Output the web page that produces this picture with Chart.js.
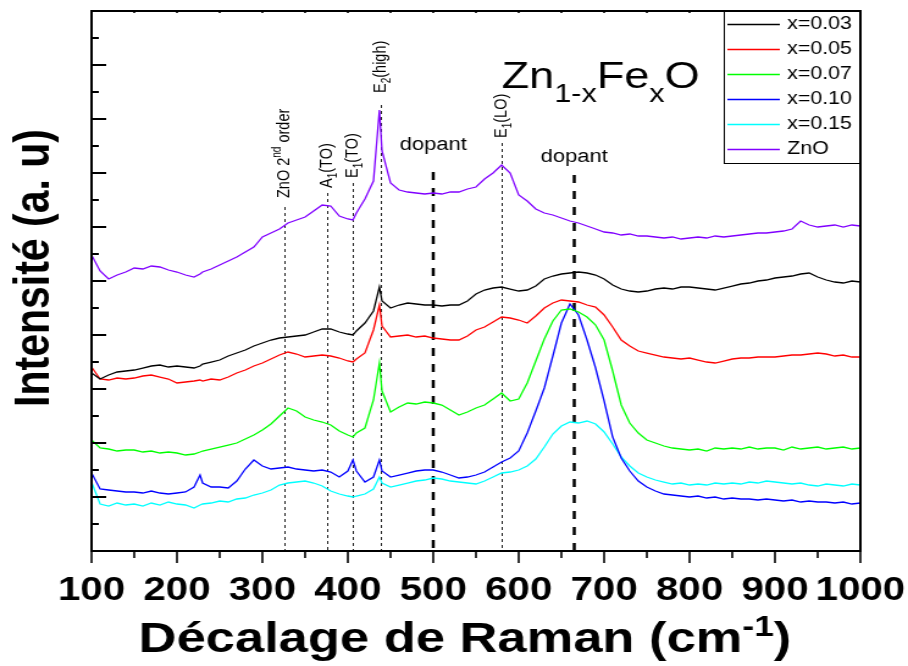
<!DOCTYPE html>
<html>
<head>
<meta charset="utf-8">
<script src="https://cdn.jsdelivr.net/npm/chart.js@4.4.1/dist/chart.umd.min.js"></script>
<style>
  html, body { margin: 0; padding: 0; background: #fff; }
  #raman { display: block; }
</style>
</head>
<body>
<!-- drawn at 744px wide and shown stretched to 908px, like the original figure -->
<canvas id="raman" width="744" height="666" style="width:908px;height:666px"></canvas>
<script>
const FONT = "'Liberation Sans', Arial, sans-serif";

// --- DATA: Raman shift (cm-1) and intensities (a.u., 27 per tick) ---
const ramanShift = [
  100, 110, 120, 130, 140, 150, 160, 170, 180, 190,
  200, 210, 220, 227, 230, 240, 250, 260, 270, 280,
  290, 300, 310, 320, 330, 340, 350, 360, 370, 380,
  390, 400, 406, 410, 420, 430, 437, 440, 450, 460,
  470, 480, 490, 500, 510, 520, 530, 540, 550, 560,
  570, 580, 590, 600, 610, 620, 630, 640, 650, 660,
  670, 680, 690, 700, 710, 720, 730, 740, 750, 760,
  770, 780, 790, 800, 810, 820, 830, 840, 850, 860,
  870, 880, 890, 900, 910, 920, 930, 940, 950, 960,
  970, 980, 990, 1000
];

const x003 = [
  178, 172, 176, 179, 180, 181, 183, 185, 186, 184,
  185, 184, 183, 185, 187, 189, 191, 195, 198, 201,
  205, 208, 211, 213, 214, 215, 216, 219, 222, 222,
  219, 217, 216, 220, 228, 240, 264, 250, 243, 246,
  248, 247, 246, 246, 245, 246, 246, 250, 257, 261,
  263, 264, 262, 260, 261, 265, 272, 275, 277, 278,
  279, 278, 276, 272, 266, 262, 260, 259, 260, 262,
  263, 262, 264, 264, 263, 262, 261, 263, 265, 267,
  268, 270, 271, 273, 274, 275, 277, 278, 274, 271,
  269, 268, 270, 269
];

const x005 = [
  184, 172, 171, 173, 172, 173, 175, 176, 174, 172,
  168, 169, 170, 171, 170, 172, 171, 174, 178, 181,
  185, 188, 192, 196, 199, 197, 194, 195, 196, 195,
  193, 190, 189, 192, 198, 221, 246, 225, 214, 215,
  216, 214, 215, 213, 212, 211, 211, 215, 221, 224,
  229, 234, 233, 231, 228, 235, 243, 248, 251, 250,
  249, 246, 244, 236, 224, 211, 205, 200, 198, 196,
  194, 193, 192, 193, 191, 189, 188, 190, 192, 193,
  193, 194, 194, 194, 195, 196, 196, 197, 198, 197,
  195, 196, 194, 194
];

const x007 = [
  111, 103, 102, 100, 101, 101, 99, 100, 98, 99,
  98, 96, 97, 99, 100, 102, 104, 106, 108, 112,
  116, 121, 127, 135, 143, 140, 134, 131, 129, 126,
  120, 116, 114, 118, 123, 151, 188, 160, 139, 144,
  148, 147, 149, 148, 146, 141, 136, 139, 143, 146,
  152, 158, 150, 152, 168, 190, 212, 230, 241, 242,
  239, 234, 226, 211, 180, 146, 128, 118, 111, 108,
  105, 103, 102, 101, 102, 100, 103, 102, 103, 102,
  104, 102, 103, 103, 101, 104, 102, 103, 104, 102,
  103, 104, 102, 103
];

const x010 = [
  78, 62, 61, 60, 59, 59, 58, 60, 58, 57,
  58, 59, 64, 76, 68, 64, 64, 63, 70, 82,
  91, 85, 82, 83, 84, 82, 81, 80, 81, 79,
  74, 80, 91, 80, 69, 74, 91, 80, 74, 76,
  78, 80, 81, 81, 79, 76, 73, 74, 76, 79,
  84, 89, 93, 100, 118, 140, 163, 195, 228, 247,
  236, 211, 183, 150, 114, 93, 80, 70, 64, 60,
  57, 56, 55, 54, 55, 53, 54, 52, 53, 52,
  52, 51, 52, 51, 50, 51, 49, 50, 49, 49,
  48, 49, 47, 48
];

const x015 = [
  69, 47, 45, 48, 46, 47, 45, 48, 46, 49,
  47, 46, 43, 46, 47, 48, 50, 49, 52, 53,
  56, 58, 61, 66, 68, 69, 70, 68, 65, 60,
  57, 55, 54, 55, 57, 62, 74, 68, 64, 66,
  68, 70, 71, 73, 72, 70, 69, 68, 67, 70,
  74, 78, 79, 81, 85, 92, 104, 117, 125, 129,
  128, 130, 127, 119, 107, 94, 85, 78, 74, 71,
  69, 67, 68, 66, 67, 66, 68, 67, 68, 67,
  69, 68, 70, 69, 68, 67, 68, 66, 65, 67,
  66, 65, 67, 66
];

const znO = [
  296, 280, 272, 276, 279, 283, 282, 285, 284, 281,
  279, 276, 274, 277, 279, 282, 286, 290, 294, 299,
  304, 314, 318, 322, 328, 331, 334, 340, 346, 345,
  335, 332, 331, 338, 352, 370, 441, 400, 368, 361,
  359, 358, 357, 358, 357, 359, 359, 362, 364, 372,
  378, 386, 378, 356, 350, 342, 338, 336, 333, 330,
  328, 325, 322, 319, 318, 316, 317, 315, 315, 314,
  313, 314, 312, 313, 314, 313, 315, 314, 315, 316,
  317, 318, 318, 319, 320, 322, 330, 326, 324, 325,
  326, 324, 326, 325
];

const seriesNames = ['x=0.03', 'x=0.05', 'x=0.07', 'x=0.10', 'x=0.15', 'ZnO'];
const seriesValues = [x003, x005, x007, x010, x015, znO];
const seriesColors = ['#000000', '#ff0000', '#00ff00', '#0000ff', '#00ffff', '#8000ff'];

// phonon modes (dotted lines) and dopant bands (dashed lines)
const modeShifts = [326, 375, 406, 438, 580];
const modeLineTops = [344, 358, 368, 446, 408];
const modeLabelStarts = [353, 363, 373, 458, 413];
const modeLabels = [
  [['ZnO 2', 0], ['nd', -1], [' order', 0]],
  [['A', 0], ['1', 1], ['(TO)', 0]],
  [['E', 0], ['1', 1], ['(TO)', 0]],
  [['E', 0], ['2', 1], ['(high)', 0]],
  [['E', 0], ['1', 1], ['(LO)', 0]]
];
const dopantShifts = [500, 665];
const dopantLineTops = [379, 376];
const dopantTextLevels = [401, 389];

// text with sub/superscripts, level 1 = subscript, -1 = superscript
function richText(ctx, parts, x, y, size, weight, align) {
  const fontOf = lvl => `${weight} ${lvl === 0 ? size : Math.round(size * 0.68)}px ${FONT}`;
  const shift = lvl => (lvl === 1 ? size * 0.38 : lvl === -1 ? -size * 0.38 : 0);
  ctx.textAlign = 'left';
  let total = 0;
  parts.forEach(([t, lvl]) => { ctx.font = fontOf(lvl); total += ctx.measureText(t).width; });
  let cx = align === 'center' ? x - total / 2 : x;
  parts.forEach(([t, lvl]) => {
    ctx.font = fontOf(lvl);
    ctx.fillText(t, cx, y + shift(lvl));
    cx += ctx.measureText(t).width;
  });
}

function seg(ctx, x1, y1, x2, y2) {
  ctx.beginPath();
  ctx.moveTo(x1, y1);
  ctx.lineTo(x2, y2);
  ctx.stroke();
}

const ramanDecor = {
  id: 'ramanDecor',
  beforeDatasetsDraw(chart) {
    const { ctx, chartArea: a, scales: { x, y } } = chart;
    ctx.save();
    ctx.strokeStyle = '#222';
    ctx.lineWidth = 1;
    ctx.setLineDash([3, 3]);
    modeShifts.forEach((s, i) => {
      const px = Math.round(x.getPixelForValue(s)) + 0.5;
      seg(ctx, px, y.getPixelForValue(modeLineTops[i]), px, a.bottom);
    });
    ctx.strokeStyle = '#000';
    ctx.lineWidth = 2.5;
    ctx.setLineDash([8, 8]);
    dopantShifts.forEach((s, i) => {
      const px = x.getPixelForValue(s);
      seg(ctx, px, y.getPixelForValue(dopantLineTops[i]), px, a.bottom);
    });
    ctx.restore();
  },
  afterDraw(chart) {
    const { ctx, chartArea: a, scales: { x, y } } = chart;
    ctx.save();
    ctx.strokeStyle = '#000';
    ctx.fillStyle = '#000';

    // ticks: y inward (alternating), x outward (major / minor)
    ctx.lineWidth = 2;
    y.ticks.forEach(t => {
      const py = y.getPixelForValue(t.value);
      const len = Math.round(t.value / 27) % 2 === 0 ? 12 : 6;
      seg(ctx, a.left, py, a.left + len, py);
    });
    ctx.lineWidth = 1.6;
    x.ticks.forEach(t => {
      const px = x.getPixelForValue(t.value);
      const len = t.value % 100 === 0 ? 12 : 7;
      seg(ctx, px, a.bottom, px, a.bottom + len);
      seg(ctx, px, a.top, px, a.top + 2);
    });
    ctx.lineWidth = 2;
    ctx.strokeRect(a.left, a.top, a.right - a.left, a.bottom - a.top);

    // mode labels, rotated
    ctx.textBaseline = 'middle';
    modeShifts.forEach((s, i) => {
      ctx.save();
      ctx.translate(x.getPixelForValue(s), y.getPixelForValue(modeLabelStarts[i]));
      ctx.rotate(-Math.PI / 2);
      richText(ctx, modeLabels[i], 0, 0, 14.5, 'normal', 'left');
      ctx.restore();
    });
    ctx.textBaseline = 'alphabetic';
    dopantShifts.forEach((s, i) => {
      richText(ctx, [['dopant', 0]], x.getPixelForValue(s), y.getPixelForValue(dopantTextLevels[i]), 18, 'normal', 'center');
    });

    // compound name
    richText(ctx, [['Zn', 0], ['1-x', 1], ['Fe', 0], ['x', 1], ['O', 0]], 411, 88, 37, 'normal', 'left');

    // legend box in the top right corner
    const lw = 112, lh = 152;
    const lx = a.right - lw, ly = a.top;
    ctx.fillStyle = '#fff';
    ctx.fillRect(lx, ly, lw, lh);
    ctx.lineWidth = 1;
    ctx.strokeStyle = '#000';
    ctx.strokeRect(lx + 0.5, ly + 0.5, lw - 1, lh);
    ctx.font = `17.5px ${FONT}`;
    ctx.textBaseline = 'middle';
    ctx.textAlign = 'left';
    ctx.lineWidth = 1.3;
    chart.data.datasets.forEach((ds, i) => {
      const ry = ly + 13.5 + i * 25;
      ctx.strokeStyle = ds.borderColor;
      seg(ctx, lx + 3, ry, lx + 46, ry);
      ctx.fillStyle = '#000';
      ctx.fillText(ds.label, lx + 52, ry);
    });

    // axis titles
    ctx.fillStyle = '#000';
    ctx.textBaseline = 'alphabetic';
    richText(ctx, [['Décalage de Raman (cm', 0], ['-1', -1], [')', 0]], 381, 652, 43, 'bold', 'center');
    ctx.save();
    ctx.translate(29, 268);
    ctx.rotate(-Math.PI / 2);
    ctx.textBaseline = 'middle';
    ctx.textAlign = 'center';
    ctx.font = `bold 41px ${FONT}`;
    ctx.fillText('Intensité (a. u)', 0, 0);
    ctx.restore();

    ctx.restore();
  }
};

new Chart(document.getElementById('raman'), {
  type: 'line',
  data: {
    datasets: seriesValues.map((vals, i) => ({
      label: seriesNames[i],
      data: ramanShift.map((s, j) => ({ x: s, y: vals[j] })),
      borderColor: seriesColors[i],
      borderWidth: 1.3,
      pointRadius: 0,
      fill: false,
      tension: 0
    }))
  },
  options: {
    responsive: false,
    animation: false,
    devicePixelRatio: 1,
    layout: { padding: { top: 11, right: 39, left: 0, bottom: 0 } },
    plugins: {
      legend: { display: false },
      tooltip: { enabled: false }
    },
    scales: {
      x: {
        type: 'linear',
        min: 100,
        max: 1000,
        grid: { display: false, drawTicks: false },
        border: { display: false },
        ticks: {
          stepSize: 50,
          autoSkip: false,
          maxRotation: 0,
          padding: 20,
          color: '#000',
          font: { family: FONT, size: 33, weight: 'bold' },
          callback: v => (v % 100 === 0 ? v : '')
        },
        afterFit: s => { s.height = 115; s.paddingLeft = 0; s.paddingRight = 0; }
      },
      y: {
        min: 0,
        max: 540,
        grid: { display: false, drawTicks: false },
        border: { display: false },
        ticks: { stepSize: 27, display: false },
        afterFit: s => { s.width = 75; s.paddingTop = 0; s.paddingBottom = 0; }
      }
    }
  },
  plugins: [ramanDecor]
});
</script>
</body>
</html>
